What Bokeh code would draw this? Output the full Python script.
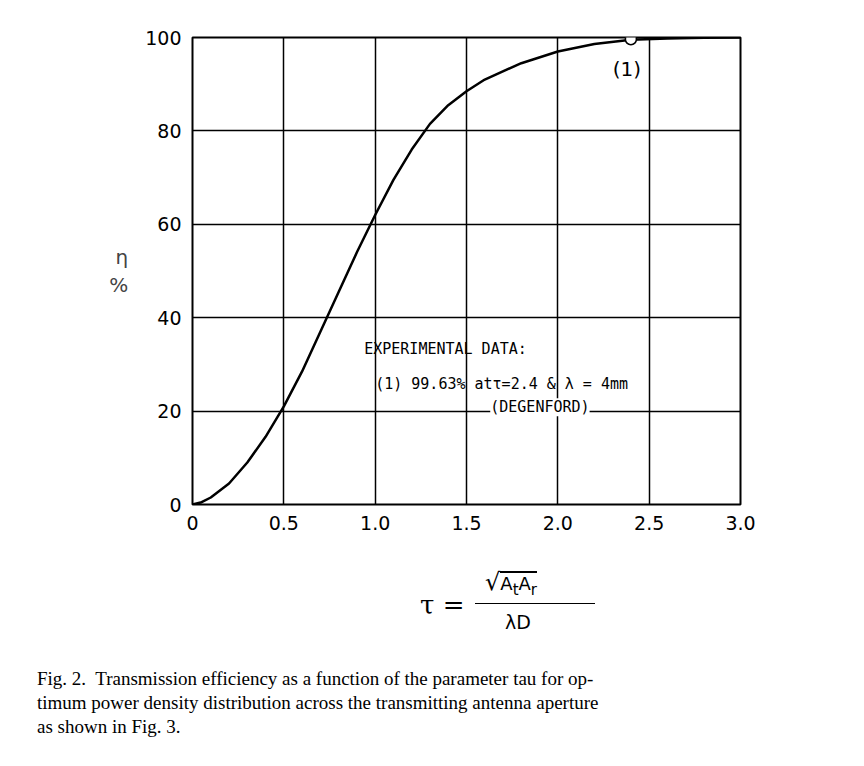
from bokeh.plotting import figure
from bokeh.models import Label, FixedTicker, Range1d, Div
from bokeh.layouts import column
from bokeh.embed import file_html
from bokeh.resources import INLINE

tau = [0.0, 0.05, 0.1, 0.2, 0.3, 0.4, 0.5, 0.6, 0.7, 0.8, 0.9, 1.0, 1.1, 1.2, 1.3, 1.4, 1.5, 1.6, 1.8, 2.0, 2.2, 2.4, 2.6, 2.8, 3.0]
eta = [0.0, 0.5, 1.5, 4.5, 9.0, 14.5, 21.0, 28.5, 37.0, 45.5, 54.0, 62.0, 69.5, 76.0, 81.5, 85.5, 88.5, 91.0, 94.5, 97.0, 98.6, 99.5, 99.8, 99.95, 100.0]
exp_tau = [2.4]
exp_eta = [99.63]
xticks = [0, 0.5, 1.0, 1.5, 2.0, 2.5, 3.0]
xlabels = {0: "0", 0.5: "0.5", 1.0: "1.0", 1.5: "1.5", 2.0: "2.0", 2.5: "2.5", 3.0: "3.0"}
yticks = [0, 20, 40, 60, 80, 100]

p = figure(width=848, height=552, output_backend="svg", toolbar_location=None,
           x_range=Range1d(0, 3), y_range=Range1d(0, 100),
           min_border_left=192, min_border_right=108, min_border_top=37, min_border_bottom=48)
p.outline_line_color = "black"
p.outline_line_width = 2
for ax in (p.xaxis, p.yaxis):
    ax.axis_line_color = None
    ax.major_tick_line_color = None
    ax.minor_tick_line_color = None
    ax.major_label_text_font = "DejaVu Sans"
    ax.major_label_text_font_size = "19px"
    ax.major_label_text_color = "black"
p.xaxis.ticker = FixedTicker(ticks=xticks)
p.xaxis.major_label_overrides = xlabels
p.yaxis.ticker = FixedTicker(ticks=yticks)
p.yaxis.axis_label = "\u03b7\n%"
p.yaxis.axis_label_orientation = "horizontal"
p.yaxis.axis_label_text_font = "DejaVu Sans"
p.yaxis.axis_label_text_font_style = "normal"
p.yaxis.axis_label_text_font_size = "20px"
p.yaxis.axis_label_standoff = 14
p.grid.grid_line_color = "black"
p.grid.grid_line_width = 1.5
p.grid.grid_line_alpha = 1

p.line(tau, eta, line_color="black", line_width=2.5)
p.scatter(exp_tau, exp_eta, size=11, fill_color="white", line_color="black", line_width=1.5)

mono = "DejaVu Sans Mono"
def lab(x, y, t, size="15px", font=mono):
    p.add_layout(Label(x=x, y=y, text=t, text_font=font, text_font_size=size,
                       text_color="black", text_baseline="middle",
                       background_fill_color="white", background_fill_alpha=0.0))

lab(2.3, 93.2, "(1)", size="20px", font="DejaVu Sans")
lab(0.94, 33.2, "EXPERIMENTAL DATA:")
lab(1.0, 25.9, "(1) 99.63% at\u03c4=2.4 & \u03bb = 4mm")
p.add_layout(Label(x=1.63, y=20.8, text="(DEGENFORD)", text_font=mono, text_font_size="15px",
                   text_color="black", text_baseline="middle",
                   background_fill_color="white", background_fill_alpha=1.0))

div = Div(width=848, height=190, text="""
<div style="position:relative;height:190px;width:848px;">
 <div style="position:absolute;left:415px;top:30px;font-family:'DejaVu Serif';font-size:26px;">&tau; =</div>
 <div style="position:absolute;left:480px;top:8px;font-family:'DejaVu Sans';font-size:24px;">
   &radic;<span style="border-top:2px solid black;font-size:18px;">A<sub>t</sub>A<sub>r</sub></span></div>
 <div style="position:absolute;left:470px;top:46px;width:120px;border-top:1.5px solid black;"></div>
 <div style="position:absolute;left:500px;top:52px;font-family:'DejaVu Sans';font-size:19px;">&lambda;D</div>
 <div style="position:absolute;left:32px;top:110px;width:780px;font-family:'Liberation Serif';font-size:19px;line-height:24px;text-align:justify;">
 Fig. 2.&nbsp; Transmission efficiency as a function of the parameter tau for op-<br>timum power density distribution across the transmitting antenna aperture<br>as shown in Fig. 3.</div>
</div>""")

open("out.html", "w").write(file_html(column(p, div, spacing=0), INLINE))
